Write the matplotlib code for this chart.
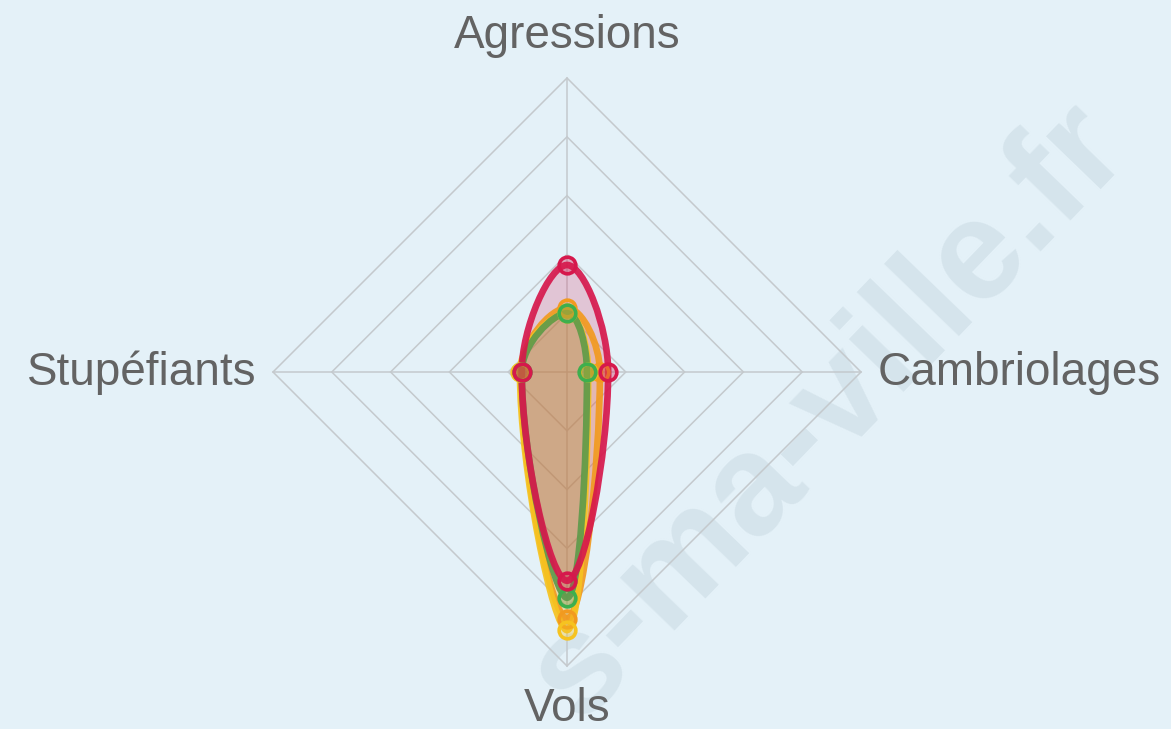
import numpy as np
import matplotlib
matplotlib.use("Agg")
import matplotlib.pyplot as plt
from matplotlib.path import Path
from matplotlib.patches import PathPatch, Polygon

AXES_LABELS = ["Agressions", "Cambriolages", "Vols", "Stupéfiants"]
R_MAX = 50
RINGS = [10, 20, 30, 40, 50]

# drawing order: orange, jaune, vert, rouge
VAL_ORANGE = [10.9, 5.6, 42.0, 7.8]
VAL_YELLOW = [10.0, 3.6, 43.9, 8.0]
VAL_GREEN = [10.0, 3.4, 38.4, 7.7]
VAL_RED = [18.2, 7.0, 35.5, 7.7]
SERIES = [VAL_ORANGE, VAL_YELLOW, VAL_GREEN, VAL_RED]
COLORS = ["#F29A1F", "#F6C320", "#5E9A4C", "#D6184C"]
MARKER_EDGE = ["#F29A1F", "#F6C320", "#3DAF4E", "#D6184C"]

BG = "#E4F1F8"
PX = 294 / R_MAX  # pixels per unit


def to_xy(vals):
    ang = np.arange(len(vals)) * 2 * np.pi / len(vals)
    v = np.asarray(vals, float)
    return np.column_stack([v * np.sin(ang), v * np.cos(ang)])


def spline_path(pts, t=0.4):
    """Closed Chart.js-like cardinal spline through pts."""
    n = len(pts)
    cp_prev, cp_next = [], []
    for i in range(n):
        p0, p1, p2 = pts[i - 1], pts[i], pts[(i + 1) % n]
        d01 = np.hypot(*(p1 - p0))
        d12 = np.hypot(*(p2 - p1))
        s01 = d01 / (d01 + d12)
        s12 = d12 / (d01 + d12)
        cp_prev.append(p1 - t * s01 * (p2 - p0))
        cp_next.append(p1 + t * s12 * (p2 - p0))
    verts = [pts[0]]
    codes = [Path.MOVETO]
    for i in range(n):
        j = (i + 1) % n
        verts += [cp_next[i], cp_prev[j], pts[j]]
        codes += [Path.CURVE4] * 3
    verts.append(pts[0])
    codes.append(Path.CLOSEPOLY)
    return Path(verts, codes)


fig = plt.figure(figsize=(11.71, 7.29), dpi=100)
fig.patch.set_facecolor(BG)
ax = fig.add_axes([0, 0, 1, 1])
ax.set_facecolor(BG)
ax.set_xlim(-567 / PX, (1171 - 567) / PX)
ax.set_ylim(-(729 - 372) / PX, 372 / PX)
ax.set_aspect("equal")
ax.axis("off")

# watermark
ax.text((1132 - 567) / PX, (372 - 152) / PX, "s-ma-ville.fr", rotation=46,
        rotation_mode="anchor", ha="right", va="baseline", fontsize=102,
        fontweight="bold", color="#D5E4EC", family="Liberation Sans", zorder=0)

# grid
for r in RINGS:
    ax.add_patch(Polygon(to_xy([r] * 4), closed=True, fill=False,
                         ec="#C4C9CD", lw=1.1, zorder=1))
for x, y in to_xy([R_MAX] * 4):
    ax.plot([0, x], [0, y], color="#C4C9CD", lw=1.1, zorder=1)

for vals, col, mec in zip(SERIES, COLORS, MARKER_EDGE):
    pts = to_xy(vals)
    path = spline_path(pts)
    ax.add_patch(PathPatch(path, fc=col, ec="none", alpha=0.2, zorder=2))
    ax.add_patch(PathPatch(path, fc="none", ec=col, lw=4.8, alpha=0.92, zorder=3,
                           joinstyle="round"))
    ax.plot(pts[:, 0], pts[:, 1], "o", ms=12, mew=2.6, mec=mec,
            mfc=matplotlib.colors.to_rgba(col, 0.35), zorder=4)

lab = dict(fontsize=33, color="#636363", family="Liberation Sans", va="baseline")
ax.text(0, (372 - 48) / PX, AXES_LABELS[0], ha="center", **lab)
ax.text((878 - 567) / PX, (372 - 385) / PX, AXES_LABELS[1], ha="left", **lab)
ax.text(0, (372 - 721) / PX, AXES_LABELS[2], ha="center", **lab)
ax.text((256 - 567) / PX, (372 - 385) / PX, AXES_LABELS[3], ha="right", **lab)

fig.savefig("out.png", dpi=100, facecolor=BG)
